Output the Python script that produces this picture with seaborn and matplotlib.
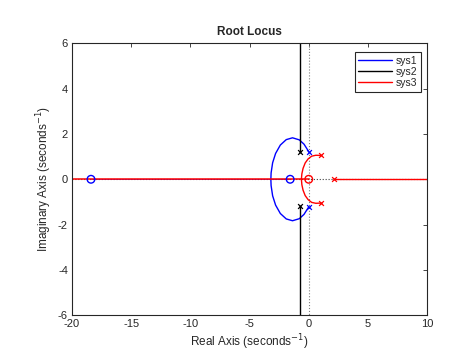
import matplotlib
matplotlib.use("Agg")
import matplotlib.pyplot as plt
import seaborn as sns
import pandas as pd

sns.set_style("white")
plt.rcParams['font.family'] = ['Liberation Sans', 'DejaVu Sans']

# ---- data ----
# sys1 (blue)
sys1_poles_re = [0.0, 0.0]
sys1_poles_im = [1.22, -1.22]
sys1_zeros_re = [-1.57, -18.4]
sys1_zeros_im = [0.0, 0.0]
sys1_upper_re = [0.0, -0.4, -0.8, -1.37, -1.9, -2.4, -2.8, -3.05, -3.18, -3.2]
sys1_upper_im = [1.22, 1.55, 1.74, 1.83, 1.75, 1.51, 1.14, 0.73, 0.28, 0.0]
sys1_lower_re = [0.0, -0.4, -0.8, -1.37, -1.9, -2.4, -2.8, -3.05, -3.18, -3.2]
sys1_lower_im = [-1.22, -1.55, -1.74, -1.83, -1.75, -1.51, -1.14, -0.73, -0.28, 0.0]
sys1_real_re = [-18.4, -1.57]
sys1_real_im = [0.0, 0.0]

# sys2 (black)
sys2_poles_re = [-0.72, -0.72]
sys2_poles_im = [1.2, -1.2]
sys2_up_re = [-0.72, -0.72]
sys2_up_im = [1.2, 7.0]
sys2_dn_re = [-0.72, -0.72]
sys2_dn_im = [-1.2, -7.0]

# sys3 (red)
sys3_poles_re = [1.05, 1.05, 2.1]
sys3_poles_im = [1.05, -1.05, 0.0]
sys3_zeros_re = [0.0]
sys3_zeros_im = [0.0]
sys3_upper_re = [1.05, 0.6, 0.25, -0.05, -0.3, -0.48, -0.58, -0.62]
sys3_upper_im = [1.05, 1.06, 1.02, 0.9, 0.72, 0.48, 0.24, 0.0]
sys3_lower_re = [1.05, 0.6, 0.25, -0.05, -0.3, -0.48, -0.58, -0.62]
sys3_lower_im = [-1.05, -1.06, -1.02, -0.9, -0.72, -0.48, -0.24, 0.0]
sys3_left_re = [-25.0, 0.0]
sys3_left_im = [0.0, 0.0]
sys3_right_re = [2.1, 15.0]
sys3_right_im = [0.0, 0.0]

x_ticks = [-20, -15, -10, -5, 0, 5, 10]
y_ticks = [-6, -4, -2, 0, 2, 4, 6]
series_names = ["sys1", "sys2", "sys3"]
series_colors = ["#0000ff", "#000000", "#ff0000"]

fig = plt.figure(figsize=(4.74, 3.55), dpi=100)
ax = fig.add_axes([0.152, 0.112, 0.749, 0.766])

# reference dotted axes
sns.lineplot(x=[0, 0], y=[-7, 7], ax=ax, color="#808080", lw=0.8,
             linestyle=":", sort=False, estimator=None, zorder=1)
sns.lineplot(x=[-25, 15], y=[0, 0], ax=ax, color="#404040", lw=0.8,
             linestyle=":", sort=False, estimator=None, zorder=1)


def seg(xs, ys, color, label=None, lw=1.0):
    df = pd.DataFrame({"x": xs, "y": ys})
    sns.lineplot(data=df, x="x", y="y", ax=ax, color=color, lw=lw,
                 sort=False, estimator=None, label=label, zorder=2)


c1, c2, c3 = series_colors
seg(sys1_upper_re, sys1_upper_im, c1, series_names[0])
seg(sys1_lower_re, sys1_lower_im, c1)
seg(sys1_real_re, sys1_real_im, c1, lw=0.5)
seg(sys2_up_re, sys2_up_im, c2, series_names[1])
seg(sys2_dn_re, sys2_dn_im, c2)
seg(sys3_upper_re, sys3_upper_im, c3, series_names[2])
seg(sys3_lower_re, sys3_lower_im, c3)
seg(sys3_left_re, sys3_left_im, c3, lw=1.1)
seg(sys3_right_re, sys3_right_im, c3)


def marks(xs, ys, color, m, s):
    if m == "o":
        sns.scatterplot(x=xs, y=ys, ax=ax, marker="o", s=s, facecolor="none",
                        edgecolor=color, linewidth=1.0, zorder=4)
    else:
        sns.scatterplot(x=xs, y=ys, ax=ax, marker="x", s=s, color=color,
                        linewidth=0.9, zorder=4)


marks(sys1_zeros_re, sys1_zeros_im, c1, "o", 30)
marks(sys1_poles_re, sys1_poles_im, c1, "x", 12)
marks(sys2_poles_re, sys2_poles_im, c2, "x", 12)
marks(sys3_zeros_re, sys3_zeros_im, c3, "o", 30)
marks(sys3_poles_re, sys3_poles_im, c3, "x", 12)

ax.set_xlim(-20, 10)
ax.set_ylim(-6, 6)
ax.set_xticks(x_ticks)
ax.set_yticks(y_ticks)
ax.set_xticklabels([str(t) for t in x_ticks])
ax.set_yticklabels([str(t) for t in y_ticks])

axcol = "#262626"
for sp in ax.spines.values():
    sp.set_visible(True)
    sp.set_color(axcol)
    sp.set_linewidth(0.8)
ax.tick_params(direction="in", length=3, width=0.6, colors=axcol,
               labelsize=8, top=True, right=True, pad=3)
for lab in ax.get_xticklabels() + ax.get_yticklabels():
    lab.set_color("#262626")

ax.set_title("Root Locus", fontsize=8.5, fontweight="bold", pad=6)
ax.set_xlabel("Real Axis (seconds$^{-1}$)", fontsize=8.5, labelpad=2)
ax.set_ylabel("Imaginary Axis (seconds$^{-1}$)", fontsize=8.5, labelpad=3)

leg = ax.legend(loc="upper right", bbox_to_anchor=(0.983, 0.967),
                fontsize=7.5, frameon=True, fancybox=False,
                edgecolor="#262626", framealpha=1, borderpad=0.35,
                handlelength=3.2, handletextpad=0.4, labelspacing=0.1,
                borderaxespad=0.0)
leg.get_frame().set_linewidth(0.8)

fig.savefig("out.png", dpi=100)
